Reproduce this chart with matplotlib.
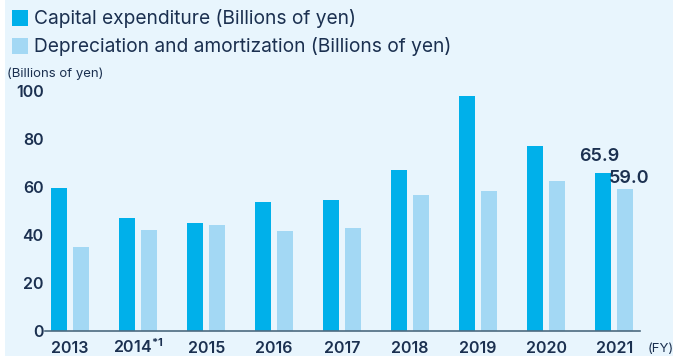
import matplotlib
matplotlib.use("Agg")
import matplotlib.pyplot as plt
from matplotlib.patches import Rectangle
import numpy as np

plt.rcParams['font.family'] = ['Inter', 'DejaVu Sans']
plt.rcParams['mathtext.fontset'] = 'custom'
plt.rcParams['mathtext.rm'] = 'Inter'
plt.rcParams['mathtext.bf'] = 'Inter:bold'

years = ["2013", r"2014$^{\mathbf{*1}}$", "2015", "2016", "2017", "2018", "2019", "2020", "2021"]
capex = [59.7, 47.0, 45.0, 53.8, 54.6, 67.0, 98.0, 77.0, 65.9]
depreciation = [35.0, 42.0, 44.0, 41.7, 43.0, 56.7, 58.3, 62.5, 59.0]
yticks = [0, 20, 40, 60, 80, 100]

CAPEX_COLOR = "#00b0ea"
DEP_COLOR = "#a3d8f4"
BG = "#e8f5fd"
TEXT = "#1b3050"

W, H = 673, 358
fig = plt.figure(figsize=(W / 100, H / 100), dpi=100, facecolor="white")
fig.patches.append(Rectangle((5 / W, 2 / H), 1 - 5 / W, 1 - 2 / H,
                             transform=fig.transFigure, facecolor=BG,
                             edgecolor="none", zorder=-10))

ax = fig.add_axes([45 / W, 27 / H, (640 - 45) / W, (331 - 91) / H])
ax.set_facecolor("none")

x = np.arange(len(years))
off = 0.162
bw = 0.235
ax.bar(x - off, capex, width=bw, color=CAPEX_COLOR, zorder=2)
ax.bar(x + off, depreciation, width=bw, color=DEP_COLOR, zorder=2)

ax.set_xlim(-0.37, 8.38)
ax.set_ylim(0, 100)
for s in ["top", "right", "left"]:
    ax.spines[s].set_visible(False)
ax.spines["bottom"].set_color("#4d6a80")
ax.spines["bottom"].set_linewidth(1.2)
ax.spines["bottom"].set_zorder(3)

ax.set_yticks(yticks)
ax.set_yticklabels([str(v) for v in yticks], fontsize=11.5, fontweight="semibold", color=TEXT)
ax.set_xticks(x)
ax.set_xticklabels(years, fontsize=11.5, fontweight="semibold", color=TEXT)
ax.tick_params(axis="both", length=0)
ax.tick_params(axis="y", pad=1)
ax.tick_params(axis="x", pad=16)
for lbl in ax.get_xticklabels():
    lbl.set_verticalalignment("baseline")

# value labels on the latest fiscal year
ax.text(x[-1] - off - 0.05, capex[-1] + 3.2, f"{capex[-1]:.1f}", ha="center", va="bottom",
        fontsize=13, fontweight="semibold", color=TEXT, clip_on=False)
ax.text(x[-1] + off + 0.05, depreciation[-1] + 0.8, f"{depreciation[-1]:.1f}", ha="center",
        va="bottom", fontsize=13, fontweight="semibold", color=TEXT, clip_on=False)

fig.text(648 / W, 1 - 352.5 / H, "(FY)", fontsize=9.5, color=TEXT, va="baseline", ha="left")
fig.text(7 / W, 1 - 74 / H, "(Billions of yen)", fontsize=9.5, color=TEXT, va="center", ha="left")

# legend
for i, (lbl, col) in enumerate([("Capital expenditure (Billions of yen)", CAPEX_COLOR),
                                 ("Depreciation and amortization (Billions of yen)", DEP_COLOR)]):
    yc = 18 + 28 * i
    fig.patches.append(Rectangle((12 / W, 1 - (yc + 8) / H), 16 / W, 16 / H,
                                 transform=fig.transFigure, facecolor=col,
                                 edgecolor="none", zorder=1))
    fig.text(34 / W, 1 - yc / H, lbl, fontsize=13.8, color=TEXT, va="center", ha="left")

fig.savefig("out.png", dpi=100, facecolor="white")
